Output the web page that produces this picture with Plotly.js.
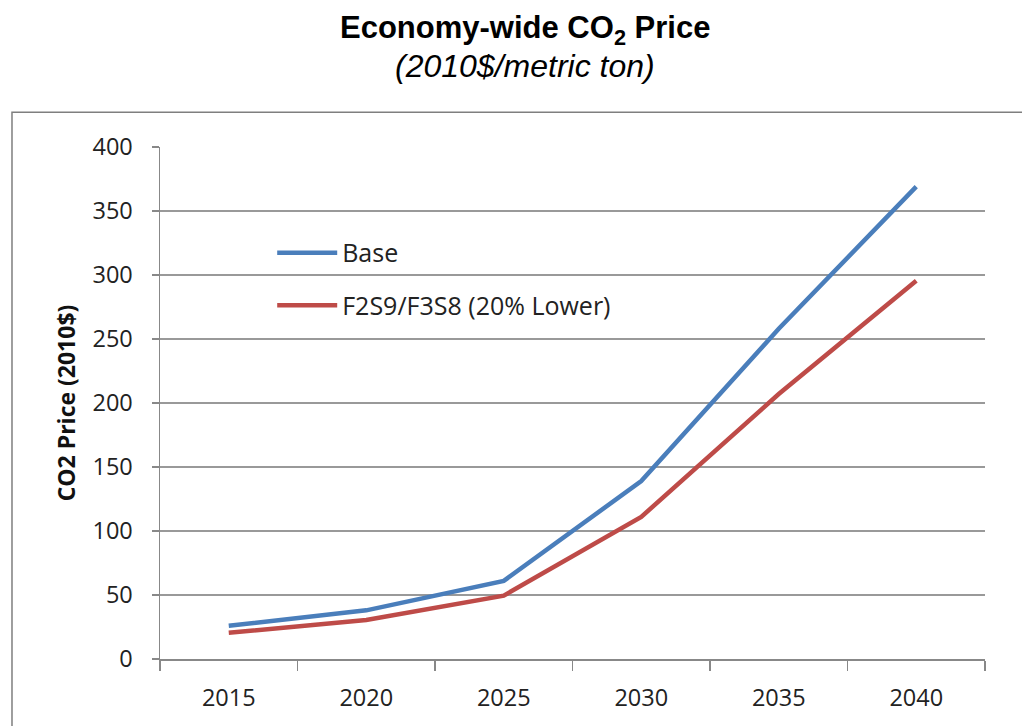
<!DOCTYPE html>
<html>
<head>
<meta charset="utf-8">
<script src="https://cdn.plot.ly/plotly-3.0.1.min.js"></script>
<style>html,body{margin:0;padding:0;background:#fff}#chart{width:1022px;height:726px}</style>
</head>
<body>
<div id="chart"></div>
<script>
const years = ['2015', '2020', '2025', '2030', '2035', '2040'];
const baseValues = [26, 38, 61, 139, 258, 369];
const lowerValues = [20.5, 30.5, 49.5, 111, 207, 295.5];
const seriesNames = ['Base', 'F2S9/F3S8 (20% Lower)'];
const yTicks = [0, 50, 100, 150, 200, 250, 300, 350, 400];

const fam = '"Open Sans", Lato, sans-serif';
const tickFont = {family: fam, size: 23.5, color: '#222'};

const traces = [
  {x: years, y: baseValues, name: seriesNames[0], type: 'scatter', mode: 'lines',
   line: {color: '#4A7EBB', width: 4.5}, legendgroup: 'a'},
  {x: years, y: lowerValues, name: seriesNames[1], type: 'scatter', mode: 'lines',
   line: {color: '#BE4B48', width: 4.5}, legendgroup: 'b'}
];

const layout = {
  width: 1022, height: 726,
  margin: {l: 160, r: 37, t: 147, b: 67},
  paper_bgcolor: '#fff', plot_bgcolor: '#fff',
  showlegend: true,
  legend: {x: 0.136, y: 0.838, xanchor: 'left', yanchor: 'top', bgcolor: 'rgba(0,0,0,0)',
           font: {family: fam, size: 25, color: '#222'},
           itemwidth: 60, tracegroupgap: 17, traceorder: 'grouped'},
  xaxis: {type: 'category', range: [-0.5, 5.5], tickson: 'boundaries', ticks: 'outside',
          ticklen: 10, tickcolor: '#888', tickwidth: 1.5, showline: true, linecolor: '#888', linewidth: 1.5,
          showgrid: false, zeroline: false, tickfont: tickFont, ticklabelstandoff: 17, fixedrange: true},
  yaxis: {range: [0, 400], tickvals: yTicks, ticks: 'outside', ticklen: 7, tickcolor: '#888', tickwidth: 1.5,
          showline: true, linecolor: '#888', linewidth: 1.5, gridcolor: '#999', gridwidth: 1.5,
          zeroline: false, tickfont: tickFont, ticklabelstandoff: 14,
          title: {text: 'CO2 Price (2010$)', font: {family: fam, size: 23, color: '#111', weight: 'bold'}, standoff: 10},
          fixedrange: true},
  annotations: [
    {text: '<b>Economy-wide CO<sub>2</sub> Price</b>', xref: 'paper', yref: 'paper', x: 0.4424, y: 1.2285,
     xanchor: 'center', yanchor: 'middle', showarrow: false,
     font: {family: '"Liberation Sans", Arial, sans-serif', size: 31, color: '#000'}},
    {text: '<i>(2010$/metric ton)</i>', xref: 'paper', yref: 'paper', x: 0.4424, y: 1.158,
     xanchor: 'center', yanchor: 'middle', showarrow: false,
     font: {family: '"Liberation Sans", Arial, sans-serif', size: 32, color: '#000'}}
  ],
  shapes: [
    {type: 'rect', xref: 'paper', yref: 'paper', x0: -0.1794, x1: 1.06, y0: -0.16, y1: 1.068,
     line: {color: '#7f7f7f', width: 1.5}, fillcolor: 'rgba(0,0,0,0)', layer: 'below'}
  ]
};

Plotly.newPlot('chart', traces, layout, {displayModeBar: false, staticPlot: true});
</script>
</body>
</html>
